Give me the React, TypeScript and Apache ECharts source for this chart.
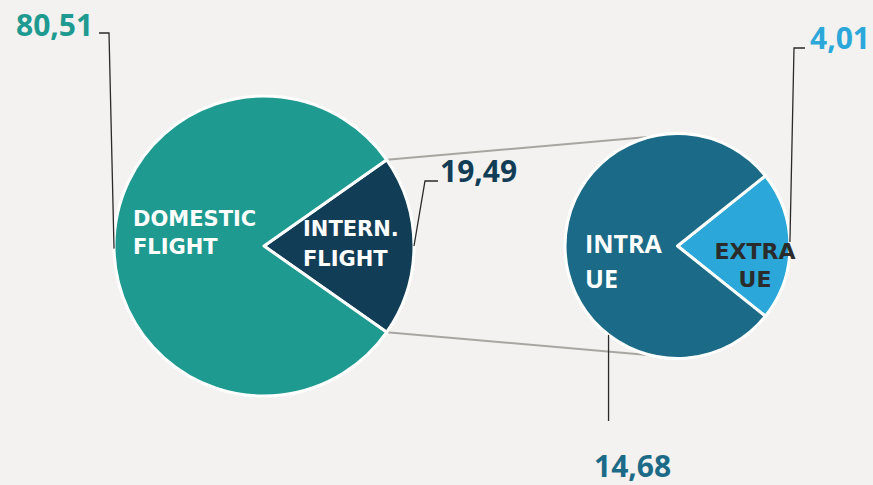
import React, { useEffect, useRef } from "react";
import * as echarts from "echarts";

// ---- data ----
const mainCategories = ["INTERN.\nFLIGHT", "DOMESTIC\nFLIGHT"];
const mainValues = [19.49, 80.51];
const subCategories = ["EXTRA\nUE", "INTRA\nUE"];
const subValues = [4.01, 14.68];

const mainColors = ["#123d56", "#1e9a90"];
const subColors = ["#2ba8d9", "#1b6b88"];

const fmt = (v: number) => v.toFixed(2).replace(".", ",");

export default function App() {
  const ref = useRef<HTMLDivElement>(null);

  useEffect(() => {
    document.body.style.margin = "0";
    document.body.style.background = "#f3f2f0";
    if (!ref.current) return;
    const chart = echarts.init(ref.current, undefined, { renderer: "svg" });

    const c1 = [264, 246];
    const r1 = 150;
    const c2 = [677.5, 246];
    const r2 = 112.5;

    const mainSum = mainValues.reduce((a, b) => a + b, 0);
    const subSum = subValues.reduce((a, b) => a + b, 0);
    const mainHalf = (mainValues[0] / mainSum) * 180;
    const subHalf = (subValues[0] / subSum) * 180;

    const pt = (c: number[], r: number, deg: number) => [
      c[0] + r * Math.cos((deg * Math.PI) / 180),
      c[1] - r * Math.sin((deg * Math.PI) / 180),
    ];

    const topA = pt(c1, r1, mainHalf);
    const botA = pt(c1, r1, -mainHalf);
    const topB = pt(c2, r2, 104);
    const botB = pt(c2, r2, -104);

    const lineColor = "#2a2a2a";
    const numFont = "'Open Sans', sans-serif";
    const lblFont = "'DejaVu Sans', sans-serif";

    const domAnchor = pt(c1, r1, 181);
    const intAnchor = pt(c1, r1, 0);
    const intraAnchor = pt(c2, r2, -127.8);
    const extraAnchor = pt(c2, r2, 2);

    chart.setOption({
      animation: false,
      backgroundColor: "#f3f2f0",
      series: [
        {
          type: "pie",
          center: c1,
          radius: [0, r1],
          startAngle: mainHalf,
          clockwise: true,
          label: { show: false },
          labelLine: { show: false },
          itemStyle: { borderColor: "#ffffff", borderWidth: 3 },
          data: mainValues.map((v, i) => ({
            value: v,
            name: mainCategories[i],
            itemStyle: { color: mainColors[i] },
          })),
          z: 2,
        },
        {
          type: "pie",
          center: c2,
          radius: [0, r2],
          startAngle: subHalf,
          clockwise: true,
          label: { show: false },
          labelLine: { show: false },
          itemStyle: { borderColor: "#ffffff", borderWidth: 3 },
          data: subValues.map((v, i) => ({
            value: v,
            name: subCategories[i],
            itemStyle: { color: subColors[i] },
          })),
          z: 2,
        },
      ],
      graphic: [
        {
          type: "line",
          z: 0,
          shape: { x1: topA[0], y1: topA[1], x2: topB[0], y2: topB[1] },
          style: { stroke: "#a9a6a2", lineWidth: 2 },
        },
        {
          type: "line",
          z: 0,
          shape: { x1: botA[0], y1: botA[1], x2: botB[0], y2: botB[1] },
          style: { stroke: "#a9a6a2", lineWidth: 2 },
        },
        {
          type: "text",
          z: 10,
          style: {
            x: 133,
            y: 233,
            text: mainCategories[1],
            fill: "#ffffff",
            font: `bold 21px ${lblFont}`,
            lineHeight: 28,
            verticalAlign: "middle",
            align: "left",
          },
        },
        {
          type: "text",
          z: 10,
          style: {
            x: 303,
            y: 244,
            text: mainCategories[0],
            fill: "#ffffff",
            font: `bold 21px ${lblFont}`,
            lineHeight: 30,
            verticalAlign: "middle",
            align: "left",
          },
        },
        {
          type: "text",
          z: 10,
          style: {
            x: 585,
            y: 260,
            text: subCategories[1],
            fill: "#ffffff",
            font: `bold 25px ${numFont}`,
            lineHeight: 35,
            verticalAlign: "middle",
            align: "left",
          },
        },
        {
          type: "text",
          z: 10,
          style: {
            x: 755,
            y: 265,
            text: subCategories[0],
            fill: "#2b2b2b",
            font: `bold 22px ${lblFont}`,
            lineHeight: 28,
            verticalAlign: "middle",
            align: "center",
          },
        },
        {
          type: "polyline",
          z: 12,
          shape: { points: [[99, 33], [109, 33], domAnchor] },
          style: { stroke: lineColor, lineWidth: 1.3, fill: null },
        },
        {
          type: "polyline",
          z: 12,
          shape: { points: [[438, 181], [425, 181], intAnchor] },
          style: { stroke: lineColor, lineWidth: 1.3, fill: null },
        },
        {
          type: "polyline",
          z: 12,
          shape: { points: [[805, 48], [794, 48], extraAnchor] },
          style: { stroke: lineColor, lineWidth: 1.3, fill: null },
        },
        {
          type: "polyline",
          z: 12,
          shape: { points: [intraAnchor, [intraAnchor[0], 421]] },
          style: { stroke: lineColor, lineWidth: 1.3, fill: null },
        },
        {
          type: "text",
          z: 12,
          style: {
            x: 16,
            y: 24,
            text: fmt(mainValues[1]),
            fill: mainColors[1],
            font: `bold 30px ${numFont}`,
            verticalAlign: "middle",
            align: "left",
          },
        },
        {
          type: "text",
          z: 12,
          style: {
            x: 440,
            y: 170,
            text: fmt(mainValues[0]),
            fill: mainColors[0],
            font: `bold 30px ${numFont}`,
            verticalAlign: "middle",
            align: "left",
          },
        },
        {
          type: "text",
          z: 12,
          style: {
            x: 810,
            y: 37,
            text: fmt(subValues[0]),
            fill: subColors[0],
            font: `bold 30px ${numFont}`,
            verticalAlign: "middle",
            align: "left",
          },
        },
        {
          type: "text",
          z: 12,
          style: {
            x: 594,
            y: 465,
            text: fmt(subValues[1]),
            fill: subColors[1],
            font: `bold 30px ${numFont}`,
            verticalAlign: "middle",
            align: "left",
          },
        },
      ],
    });

    return () => chart.dispose();
  }, []);

  return <div ref={ref} style={{ width: 873, height: 485 }} />;
}
